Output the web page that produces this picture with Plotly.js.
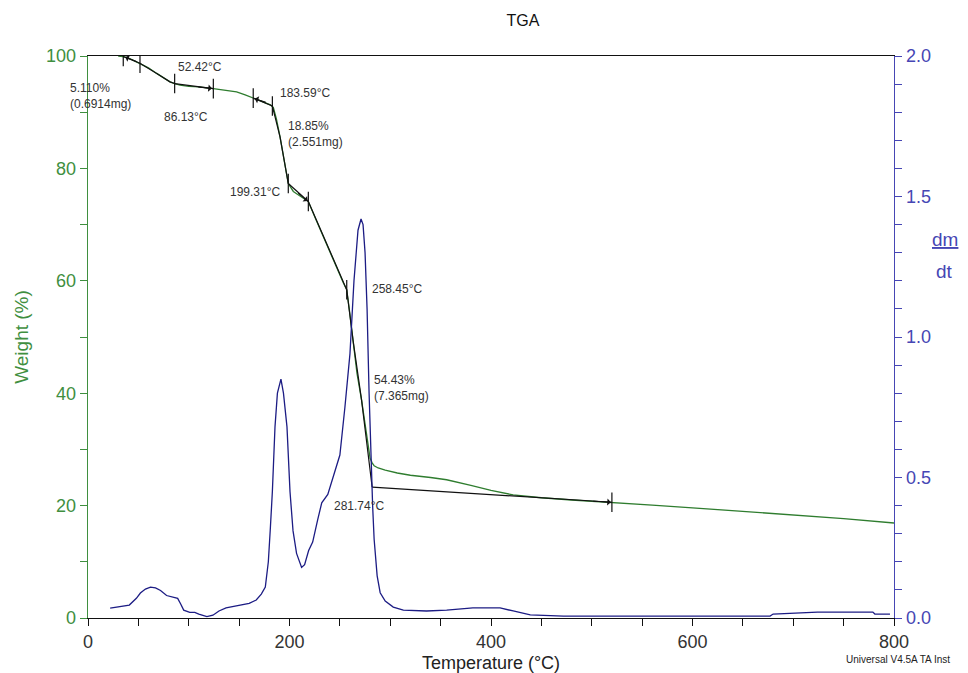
<!DOCTYPE html>
<html>
<head>
<meta charset="utf-8">
<script src="https://cdn.plot.ly/plotly-3.0.1.min.js"></script>
<style>html,body{margin:0;padding:0;background:#fff;}#chart{width:968px;height:673px;}</style>
</head>
<body>
<div id="chart"></div>
<script>
// Weight (%) curve
var weightT = [30, 35, 42, 51.6, 60, 68.2, 75, 81.4, 86, 91.3, 100, 110, 124.4, 136, 147.5, 156, 164, 171, 177.4, 181, 184, 187, 190.6, 193, 195.5, 198.8, 203.8, 210, 218.7, 226, 233.6, 240, 246.9, 253.5, 256.8, 258, 260, 263, 267, 271.5, 276, 280, 282, 284, 288, 295, 307, 320, 340, 356, 380, 400, 422, 450, 480, 521, 560, 600, 650, 700, 750, 800];
var weightW = [100, 99.9, 99.5, 98.7, 97.9, 96.9, 96.1, 95.4, 95.1, 94.8, 94.6, 94.5, 94.2, 93.9, 93.6, 93.1, 92.5, 92.0, 91.6, 91.3, 90.8, 88.8, 85.6, 83.0, 80.3, 77.3, 75.9, 75.1, 74.1, 71.0, 67.8, 65.1, 62.5, 59.6, 58.4, 57.0, 54.0, 49.5, 43.5, 38.8, 33.0, 28.4, 27.6, 27.1, 26.7, 26.3, 25.8, 25.4, 25.0, 24.6, 23.6, 22.7, 21.9, 21.4, 21.0, 20.6, 20.1, 19.6, 19.0, 18.4, 17.7, 16.9];

// Derivative curve (dm/dt)
var dtgT = [22, 30, 41, 48, 52, 57, 62, 67, 72, 78, 84, 89, 92, 95, 101, 106, 110, 118, 124, 130, 137, 148, 160, 167, 172, 176, 179, 181, 183, 185.6, 188, 191.5, 194, 197.5, 200.5, 203.5, 207, 212, 215, 219, 223, 228, 232, 238, 245, 250, 255, 260, 264, 268, 271, 273, 275, 277, 279, 281, 282.5, 284, 287, 290, 295, 303, 313, 336, 356, 382, 409, 422, 439, 472, 677, 680, 724, 779, 781, 796];
var dtgD = [0.035, 0.04, 0.046, 0.07, 0.089, 0.103, 0.11, 0.107, 0.098, 0.08, 0.074, 0.07, 0.05, 0.028, 0.02, 0.02, 0.014, 0.005, 0.01, 0.025, 0.036, 0.043, 0.052, 0.064, 0.085, 0.11, 0.2, 0.32, 0.45, 0.68, 0.8, 0.85, 0.8, 0.68, 0.45, 0.31, 0.23, 0.18, 0.19, 0.24, 0.27, 0.35, 0.41, 0.44, 0.52, 0.58, 0.75, 0.94, 1.2, 1.38, 1.42, 1.4, 1.3, 1.1, 0.8, 0.55, 0.4, 0.28, 0.15, 0.09, 0.06, 0.039, 0.028, 0.025, 0.028, 0.036, 0.036, 0.025, 0.011, 0.007, 0.007, 0.014, 0.021, 0.021, 0.014, 0.014];

// Step-analysis construction lines (black)
var stepA_T = [35, 51.6, 68.2, 81.4, 86];
var stepA_W = [99.9, 98.7, 96.9, 95.4, 95.1];
var stepB_T = [86, 124.4];
var stepB_W = [95.1, 94.2];
var stepC_T = [164, 183, 190.6, 195.5, 198.8];
var stepC_W = [92.5, 91.1, 85.6, 80.3, 77.3];
var stepD_T = [198.8, 218.7];
var stepD_W = [77.3, 74.1];
var stepE_T = [218.7, 233.6, 246.9, 256.8, 263, 271.5, 282];
var stepE_W = [74.1, 67.8, 62.5, 58.4, 49.5, 38.8, 23.3];
var stepF_T = [282, 520];
var stepF_W = [23.3, 20.6];

// Limit marks
var markT = [35, 51.6, 86, 124.4, 164, 183, 198.8, 218.7, 256.8, 520];
var markW = [99.9, 98.7, 95.1, 94.2, 92.5, 91.1, 77.3, 74.1, 58.4, 20.6];

// Arrows (tip and tail)
var arrowTipT = [37, 123, 165.5, 218, 519];
var arrowTipW = [99.8, 94.2, 92.4, 74.2, 20.6];
var arrowTailT = [50, 108, 178, 207, 500];
var arrowTailW = [98.9, 94.5, 91.7, 75.8, 20.8];

// Result labels
var labelText = ['52.42°C', '86.13°C', '183.59°C', '18.85%<br>(2.551mg)', '199.31°C', '258.45°C', '54.43%<br>(7.365mg)', '281.74°C'];
var labelT = [87.3, 73.5, 188.6, 196.5, 139, 280, 282, 242];
var labelW = [98.0, 89.1, 93.4, 86.2, 75.8, 58.5, 40.9, 19.9];

var GREEN = '#3f8f3f';
var LINEGREEN = '#2f7d2f';
var BLUE = '#4646b4';
var NAVY = '#1c1c84';
var FONT = 'Liberation Sans, Arial, sans-serif';

var traces = [
  {x: dtgT, y: dtgD, yaxis: 'y2', type: 'scatter', mode: 'lines', line: {color: NAVY, width: 1.3}, hoverinfo: 'skip'},
  {x: weightT, y: weightW, type: 'scatter', mode: 'lines', line: {color: LINEGREEN, width: 1.3}, hoverinfo: 'skip'}
];
[[stepA_T, stepA_W], [stepB_T, stepB_W], [stepC_T, stepC_W], [stepD_T, stepD_W], [stepE_T, stepE_W], [stepF_T, stepF_W]].forEach(function (s) {
  traces.push({x: s[0], y: s[1], type: 'scatter', mode: 'lines', line: {color: '#111', width: 1.2}, hoverinfo: 'skip'});
});
traces.push({x: markT, y: markW, type: 'scatter', mode: 'markers', marker: {symbol: 'line-ns-open', size: 14, color: '#111', line: {color: '#111', width: 1.2}}, hoverinfo: 'skip'});

var annotations = [];
for (var i = 0; i < arrowTipT.length; i++) {
  annotations.push({x: arrowTipT[i], y: arrowTipW[i], xref: 'x', yref: 'y', ax: arrowTailT[i], ay: arrowTailW[i], axref: 'x', ayref: 'y',
    text: '', showarrow: true, arrowhead: 1, arrowsize: 1.2, arrowwidth: 1, arrowcolor: '#111'});
}
for (var j = 0; j < labelText.length; j++) {
  annotations.push({x: labelT[j], y: labelW[j], xref: 'x', yref: 'y', text: labelText[j], showarrow: false,
    xanchor: 'left', yanchor: 'middle', align: 'left', font: {family: FONT, size: 12, color: '#333'}});
}
annotations.push({x: -0.0248, y: 92.9, xref: 'paper', yref: 'y', text: '5.110%<br>(0.6914mg)', showarrow: false,
  xanchor: 'left', yanchor: 'middle', align: 'left', font: {family: FONT, size: 12, color: '#333'}});
annotations.push({x: 1.063, y: 0.6726, xref: 'paper', yref: 'paper', text: '<u>dm</u>', showarrow: false,
  xanchor: 'center', yanchor: 'middle', font: {family: FONT, size: 19, color: BLUE}});
annotations.push({x: 1.063, y: 0.6157, xref: 'paper', yref: 'paper', text: 'dt', showarrow: false,
  xanchor: 'center', yanchor: 'middle', font: {family: FONT, size: 19, color: BLUE}});
annotations.push({x: 1.072, y: -0.0747, xref: 'paper', yref: 'paper', text: 'Universal V4.5A TA Inst', showarrow: false,
  xanchor: 'right', yanchor: 'middle', font: {family: FONT, size: 10, color: '#222'}});

var layout = {
  width: 968, height: 673,
  margin: {l: 88, r: 74, t: 56, b: 55},
  paper_bgcolor: '#fff', plot_bgcolor: '#fff',
  showlegend: false,
  font: {family: FONT},
  title: {text: 'TGA', x: 523 / 968, xref: 'container', xanchor: 'center', y: 1 - 20 / 673, yref: 'container', yanchor: 'middle',
    font: {family: FONT, size: 16, color: '#111'}},
  xaxis: {
    range: [0, 800], tick0: 0, dtick: 200, ticks: 'outside', ticklen: 7, tickcolor: '#111', tickwidth: 1,
    minor: {dtick: 50, ticks: 'outside', ticklen: 7, tickcolor: '#111', tickwidth: 1, showgrid: false},
    showline: true, linecolor: '#111', linewidth: 1, mirror: true, showgrid: false, zeroline: false,
    tickfont: {family: FONT, size: 18, color: '#333'},
    title: {text: 'Temperature (°C)', standoff: 6, font: {family: FONT, size: 18, color: '#222'}}
  },
  yaxis: {
    range: [0, 100], tick0: 0, dtick: 20, ticks: 'outside', ticklen: 7, tickcolor: GREEN, tickwidth: 1,
    minor: {dtick: 10, ticks: 'outside', ticklen: 7, tickcolor: GREEN, tickwidth: 1, showgrid: false},
    showline: true, linecolor: GREEN, linewidth: 1.3, showgrid: false, zeroline: false,
    tickfont: {family: FONT, size: 18, color: GREEN},
    title: {text: 'Weight (%)', standoff: 12, font: {family: FONT, size: 19, color: GREEN}}
  },
  yaxis2: {
    overlaying: 'y', side: 'right', range: [0, 2], tick0: 0, dtick: 0.5, tickformat: '.1f',
    ticks: 'outside', ticklen: 7, tickcolor: BLUE, tickwidth: 1,
    minor: {dtick: 0.1, ticks: 'outside', ticklen: 7, tickcolor: BLUE, tickwidth: 1, showgrid: false},
    showline: true, linecolor: BLUE, linewidth: 1.3, showgrid: false, zeroline: false,
    tickfont: {family: FONT, size: 18, color: BLUE}
  },
  annotations: annotations
};

Plotly.newPlot('chart', traces, layout, {staticPlot: true, displayModeBar: false});
</script>
</body>
</html>
